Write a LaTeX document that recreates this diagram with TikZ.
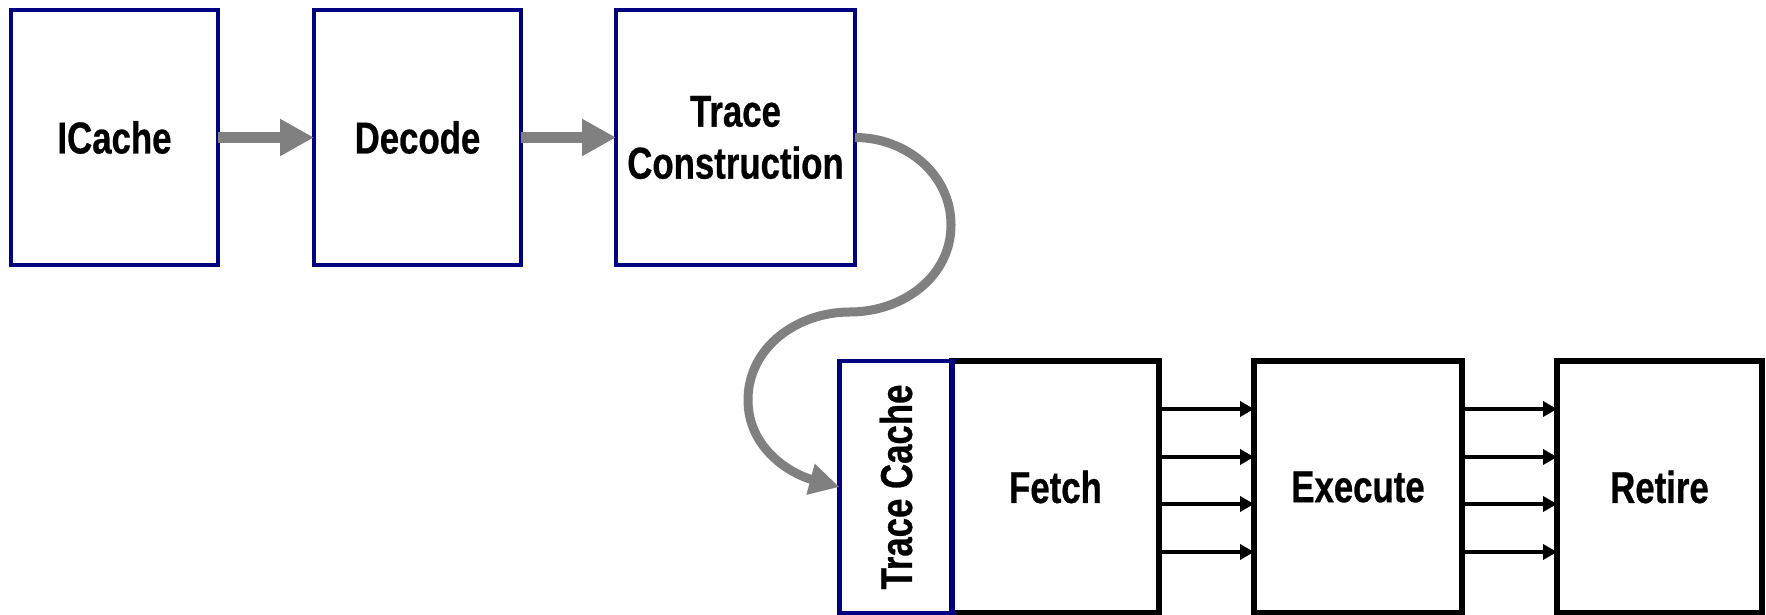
\documentclass[tikz,border=0pt]{standalone}
\usepackage{fontspec}
\setmainfont{Liberation Sans}[FakeStretch=0.78,BoldFeatures={FakeBold=0.6}]
\usetikzlibrary{arrows.meta}
\definecolor{navy}{HTML}{000080}
\definecolor{arrowgray}{HTML}{808080}
\tikzset{
  lbl/.style={font=\fontsize{22.3}{26}\selectfont\bfseries, align=center},
  blk/.style={lbl, draw=navy, line width=2.4pt, outer sep=0pt, inner sep=0pt,
    minimum width=103.5pt, minimum height=127.5pt},
  pipe/.style={blk, draw=black, line width=2.8pt, minimum height=126pt},
  fat/.style={draw=arrowgray, line width=5.8pt, -{Triangle[length=17pt,width=17.5pt]}},
  curvy/.style={draw=arrowgray, line width=4.5pt, -{Triangle[length=15pt,width=15pt]}},
  thinarrow/.style={draw=black, line width=2pt, -{Triangle[length=7pt,width=7.5pt]}}
}
\begin{document}
\begin{tikzpicture}[x=0.5pt,y=0.5pt]
\useasboundingbox (0,0) rectangle (1766,615);
\node[blk] (ic) at (114.5,477.5) {ICache};
\node[blk] (dec) at (417.5,477.5) {Decode};
\node[blk, minimum width=119.5pt] (tcon) at (735.5,477.5) {Trace\\Construction};
\node[pipe] (fetch) at (1055.5,128) {Fetch};
\node[blk, minimum width=56.5pt, minimum height=126pt] (tcache) at (896,128) {};
\node[lbl, rotate=90] (tclabel) at (tcache.center) {Trace Cache};
\node[pipe, minimum width=104pt] (exe) at (1358,128) {Execute};
\node[pipe, minimum width=102.5pt] (ret) at (1659.5,128) {Retire};
\draw[fat] (ic) -- (dec);
\draw[fat] (dec) -- (tcon);
\coordinate (c1) at (951,390);
\coordinate (c2) at (850,303);
\coordinate (c3) at (748,215);
\draw[curvy] (tcon.east) to[out=0,in=90] (c1) to[out=-90,in=0] (c2)
  to[out=180,in=90] (c3) to[out=-90,in=165] (tcache.west);
\foreach \yy in {206,158,111,63} {
  \draw[thinarrow] (fetch.east |- 0,\yy) -- (exe.west |- 0,\yy);
  \draw[thinarrow] (exe.east |- 0,\yy) -- (ret.west |- 0,\yy);
}
\end{tikzpicture}
\end{document}
